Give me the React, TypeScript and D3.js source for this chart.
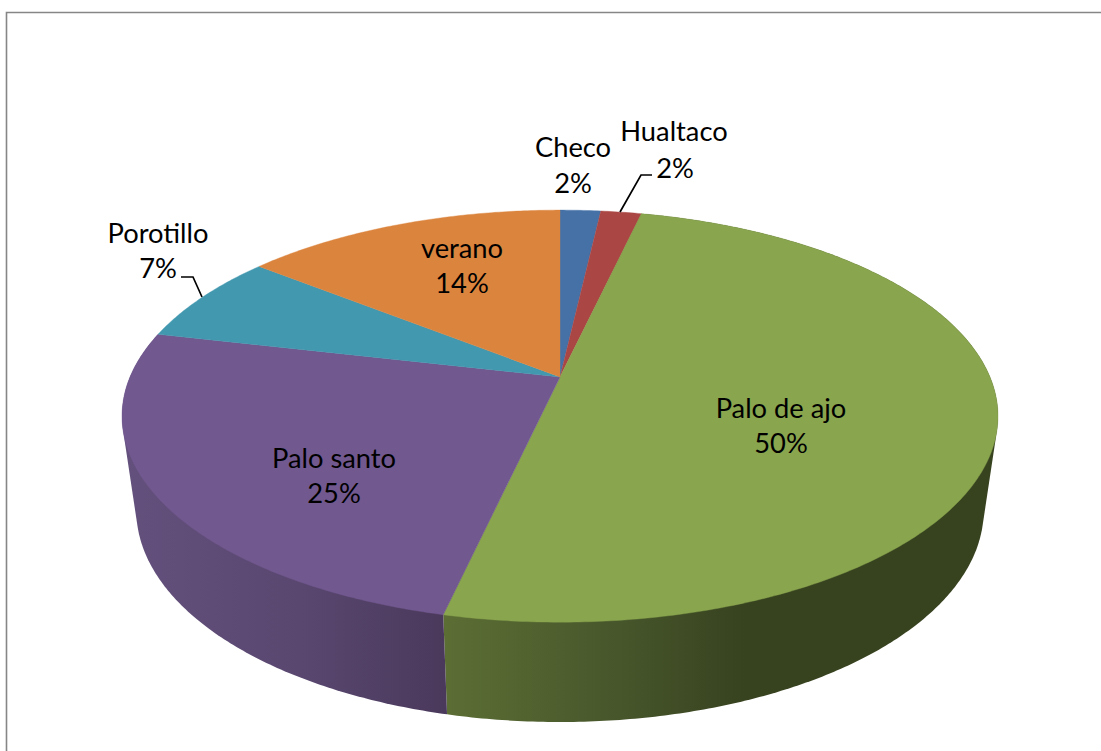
import React from "react";
import * as d3 from "d3";

const categories = ["Checo", "Hualtaco", "Palo de ajo", "Palo santo", "Porotillo", "verano"];
const values = [1.8, 1.8, 49.95, 25.05, 7.1, 14.3];
const topColors = ["#4571a7", "#aa4644", "#89a54e", "#71588f", "#4198af", "#db843d"];
const sideStops: Record<string, [number, string][]> = {
  "Palo de ajo": [[443, "#5c6e34"], [620, "#47562b"], [745, "#37421f"], [998, "#37421f"]],
  "Palo santo": [[125, "#63507c"], [300, "#594770"], [445, "#4a395b"]],
};
const labelX = [573, 674, 781, 334, 158, 462];
const labelY = [146, 130, 407, 457, 232, 247];
const pctX = [573, 675, 781, 334, 158, 462];
const pctY = [182, 167, 442, 492, 267, 282];
const leaders: [number, number][][] = [
  [[620, 212], [641, 175], [652, 175]],
  [[202, 297], [193, 277], [181, 277]],
];

const W = 1101;
const H = 751;
const k = 0.19;
const topFace = { x0: 560, y0: 377, a: 198.6, b: 430 };
const baseFace = { x0: 560, y0: 469.8, a: 204.3, b: 416 };

const project = (f: typeof topFace, ang: number): [number, number] => {
  const u = Math.sin(ang);
  const v = -Math.cos(ang);
  const w = 1 - k * v;
  return [f.x0 + (f.b * u) / w, f.y0 + (f.a * v) / w];
};

const arcs = d3.pie<number>().sort(null).value((d) => d)(values);
const line = d3.line();

const angles = (s: number, e: number) => {
  const n = Math.max(2, Math.ceil((e - s) / 0.01));
  return d3.range(n + 1).map((i) => s + ((e - s) * i) / n);
};

export default function App() {
  return (
    <svg
      width={W}
      height={H}
      viewBox={`0 0 ${W} ${H}`}
      style={{ position: "fixed", left: 0, top: 0, background: "#fff", fontFamily: "Lato, Carlito, sans-serif" }}
    >
      <defs>
        {Object.entries(sideStops).map(([name, stops]) => {
          const xs = d3.extent(stops, (s) => s[0]) as [number, number];
          const t = d3.scaleLinear().domain(xs).range([0, 1]);
          return (
            <linearGradient key={name} id={`side-${name.replace(/ /g, "")}`} gradientUnits="userSpaceOnUse" x1={xs[0]} x2={xs[1]} y1={0} y2={0}>
              {stops.map(([x, c]) => (
                <stop key={x} offset={t(x)} stopColor={c} />
              ))}
            </linearGradient>
          );
        })}
      </defs>
      <path d="M6.5 751V12.5H1101" fill="none" stroke="#868686" strokeWidth={1.6} />
      {arcs.map((a, i) => {
        const name = categories[i];
        if (!sideStops[name]) return null;
        const as = angles(a.startAngle, a.endAngle);
        const pts = [...as.map((t) => project(topFace, t)), ...as.map((t) => project(baseFace, t))];
        const hull = d3.polygonHull(pts) as [number, number][];
        return <path key={name} d={line(hull) + "Z"} fill={`url(#side-${name.replace(/ /g, "")})`} />;
      })}
      {arcs.map((a, i) => {
        const pts: [number, number][] = [[topFace.x0, topFace.y0], ...angles(a.startAngle, a.endAngle).map((t) => project(topFace, t))];
        return <path key={categories[i]} d={line(pts) + "Z"} fill={topColors[i]} stroke={topColors[i]} strokeWidth={0.4} />;
      })}
      {leaders.map((l, i) => (
        <path key={i} d={line(l) ?? ""} fill="none" stroke="#000" strokeWidth={1.7} />
      ))}
      {categories.map((c, i) => (
        <g key={c} fontSize={27.3} fill="#000" textAnchor="middle" dominantBaseline="central">
          <text x={labelX[i]} y={labelY[i]}>{c}</text>
          <text x={pctX[i]} y={pctY[i]}>{`${Math.round(values[i])}%`}</text>
        </g>
      ))}
    </svg>
  );
}
